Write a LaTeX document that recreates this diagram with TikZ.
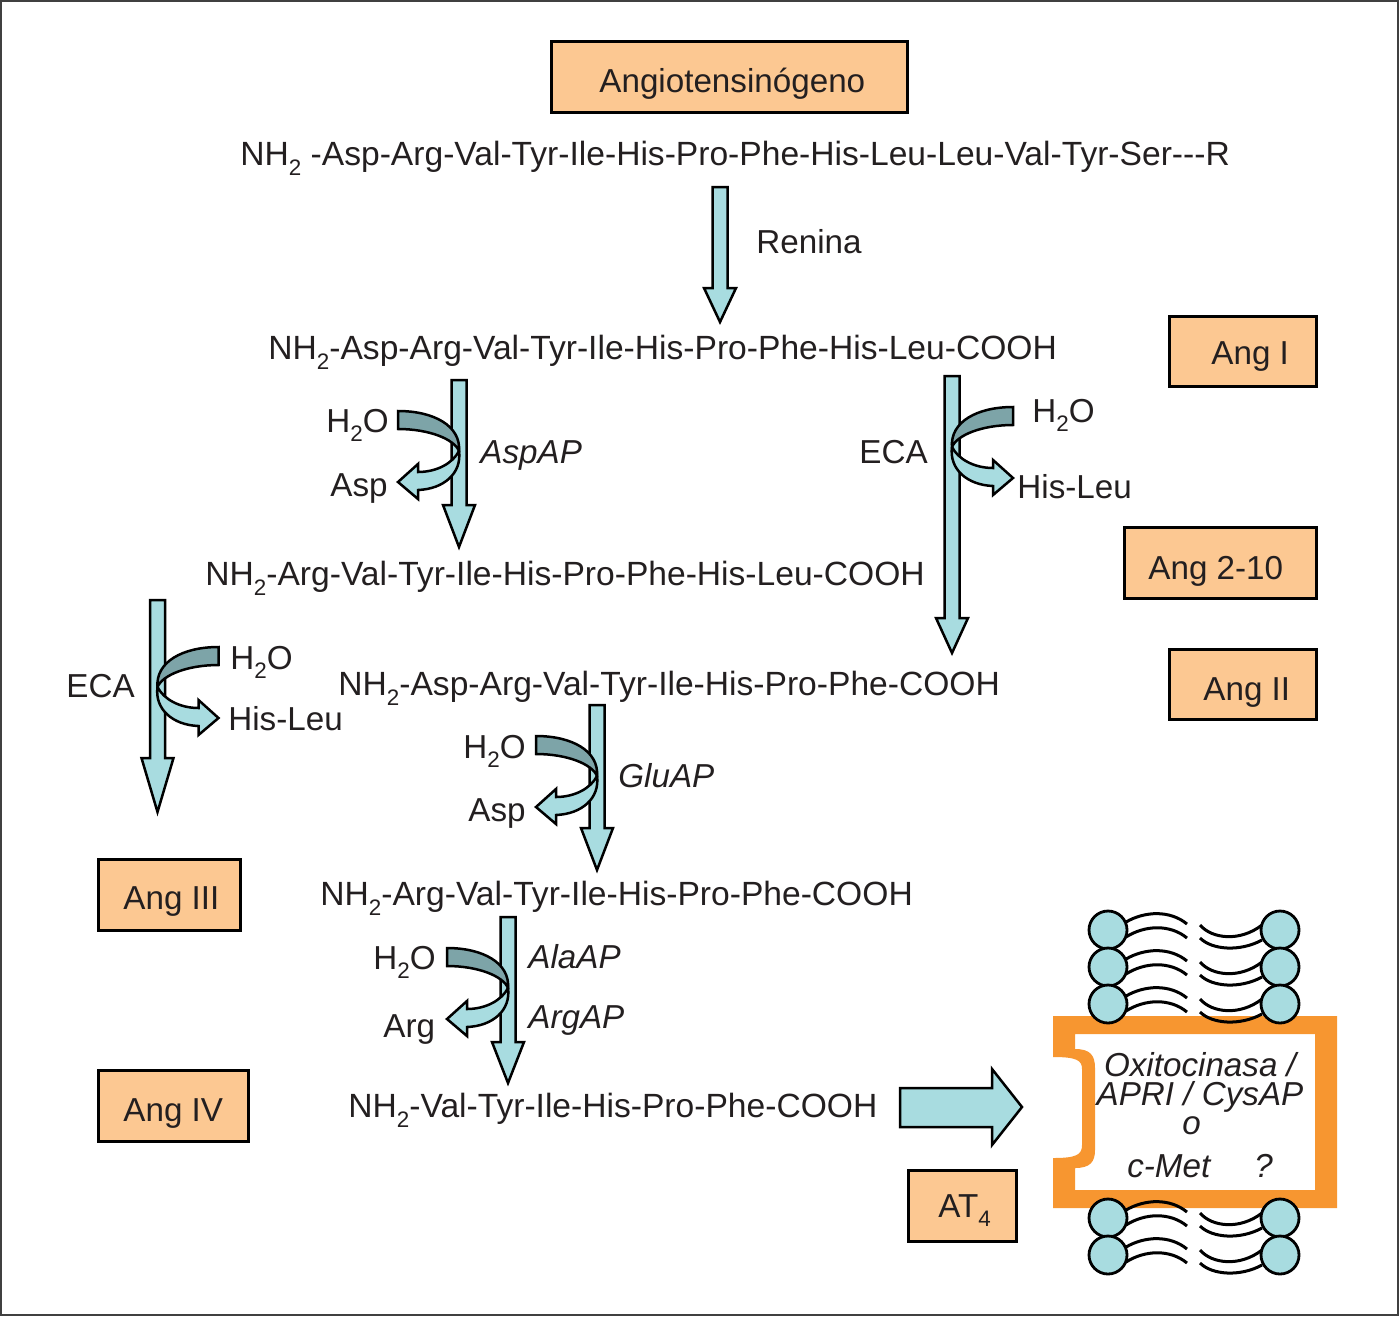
\documentclass[tikz,border=0pt]{standalone}
\usepackage{fontspec}
\setmainfont{Liberation Sans}
\newcommand\sbs[1]{\raisebox{-0.3em}{\fontsize{11.2pt}{12pt}\selectfont #1}}
\definecolor{peach}{RGB}{252,200,146}
\definecolor{ablue}{RGB}{168,220,224}
\definecolor{cdark}{RGB}{125,164,168}
\definecolor{orng}{RGB}{247,150,48}
\definecolor{ink}{RGB}{35,31,32}
\newcommand\varr[4]{%
  \draw[blk] ({#1-7.5},#2) -- ({#1+7.5},#2) -- ({#1+7.5},#3) -- ({#1+16},#3) -- (#1,#4) -- ({#1-16},#3) -- ({#1-7.5},#3) -- cycle;}
\newcommand\curl[3]{%
  \draw[blk] (#1,{#2+40}) .. controls ({#1+#3*6},{#2+52}) and ({#1+#3*22},{#2+61}) .. ({#1+#3*41},{#2+61})
     -- ({#1+#3*41},{#2+53}) -- ({#1+#3*61},{#2+71}) -- ({#1+#3*41},{#2+88}) -- ({#1+#3*41},{#2+79})
     .. controls ({#1+#3*15},{#2+78}) and ({#1-#3*3},{#2+62}) .. (#1,{#2+40}) -- cycle;
  \draw[blk,fill=cdark] ({#1+#3*61},#2) .. controls ({#1+#3*25},#2) and ({#1-#3*2},{#2+15}) .. (#1,{#2+40})
     .. controls ({#1+#3*5},{#2+28}) and ({#1+#3*30},{#2+18}) .. ({#1+#3*61},{#2+18}) -- cycle;}
\newcommand\lipid[1]{%
  \draw[tail] (1126,{#1-8}) .. controls (1145,{#1-19}) and (1170,{#1-20}) .. (1187,{#1-6});
  \draw[tail] (1126,{#1+7}) .. controls (1145,{#1-5}) and (1170,{#1-6}) .. (1187,{#1+8});
  \draw[tail] (1200,{#1-5}) .. controls (1212,{#1+9}) and (1240,{#1+12}) .. (1262,{#1-5});
  \draw[tail] (1200,{#1+8}) .. controls (1212,{#1+20}) and (1240,{#1+22}) .. (1262,{#1+10});}
\begin{document}
\begin{tikzpicture}[x=0.5pt,y=-0.5pt,
  every node/.style={font=\fontsize{16.6pt}{20pt}\selectfont, inner sep=0pt, text=ink},
  txt/.style={anchor=base west},
  seq/.style={anchor=base west, font=\fontsize{16.8pt}{20pt}\selectfont},
  itx/.style={anchor=base west, font=\fontsize{16.6pt}{20pt}\selectfont\itshape},
  box/.style={draw=black, line width=1.5pt, fill=peach, rectangle, inner sep=0pt},
  blk/.style={fill=ablue, draw=black, line width=1.25pt, line join=miter},
  tail/.style={draw=black, line width=1.5pt},
  head/.style={fill=ablue, draw=black, line width=1.4pt}]
\useasboundingbox (0,0) rectangle (1400,1317);
\draw[black!75, line width=1pt] (1,1) rectangle (1398,1315);

% boxes
\node[box, minimum width=178pt, minimum height=35.5pt] (bAgt) at (729.5,77) {};
\node[box, minimum width=73.5pt, minimum height=35pt] (bI) at (1243,351.5) {};
\node[box, minimum width=96pt, minimum height=35.5pt] (b210) at (1220.5,563) {};
\node[box, minimum width=73.5pt, minimum height=35pt] (bII) at (1243,684.5) {};
\node[box, minimum width=71pt, minimum height=35.5pt] (bIII) at (169.5,895) {};
\node[box, minimum width=75pt, minimum height=35.5pt] (bIV) at (173.5,1106) {};
\node[box, minimum width=54pt, minimum height=35.5pt] (bAT) at (962.5,1206) {};
\node[txt] (tAgt) at (599,92) {Angiotensinógeno};
\node[txt] (tI) at (1211,364) {Ang I};
\node[txt] (t210) at (1148,579) {Ang 2-10};
\node[txt] (tII) at (1203,700) {Ang II};
\node[txt] (tIII) at (123,909) {Ang III};
\node[txt] (tIV) at (123,1121) {Ang IV};
\node[txt] (tAT) at (938,1217) {AT\sbs{4}};

% peptide chains
\node[seq] (p1) at (240,165) {NH\sbs{2} -Asp-Arg-Val-Tyr-Ile-His-Pro-Phe-His-Leu-Leu-Val-Tyr-Ser-{}-{}-R};
\node[seq] (p2) at (268,359) {NH\sbs{2}-Asp-Arg-Val-Tyr-Ile-His-Pro-Phe-His-Leu-COOH};
\node[seq] (p3) at (205,585) {NH\sbs{2}-Arg-Val-Tyr-Ile-His-Pro-Phe-His-Leu-COOH};
\node[seq] (p4) at (338,695) {NH\sbs{2}-Asp-Arg-Val-Tyr-Ile-His-Pro-Phe-COOH};
\node[seq] (p5) at (320,905) {NH\sbs{2}-Arg-Val-Tyr-Ile-His-Pro-Phe-COOH};
\node[seq] (p6) at (348,1117) {NH\sbs{2}-Val-Tyr-Ile-His-Pro-Phe-COOH};

% vertical arrows
\varr{720}{187}{288}{322}
\varr{459}{380}{505}{547}
\varr{952}{376}{618}{653}
\varr{157.5}{600}{758}{812}
\varr{597}{705}{828}{870}
\varr{508}{917}{1042}{1083}

% curled arrows
\curl{459}{411}{-1}
\curl{952}{407}{1}
\curl{157.5}{647}{1}
\curl{597}{736}{-1}
\curl{508}{948}{-1}

% labels
\node[txt] (lRen) at (756,253) {Renina};
\node[txt] (w1) at (326,432) {H\sbs{2}O};
\node[txt] (a1) at (330,496) {Asp};
\node[itx] (e1) at (480,463) {AspAP};
\node[txt] (e2) at (859,463) {ECA};
\node[txt] (w2) at (1032,422) {H\sbs{2}O};
\node[txt] (h2) at (1017,498) {His-Leu};
\node[txt] (e3) at (66,697) {ECA};
\node[txt] (w3) at (230,669) {H\sbs{2}O};
\node[txt] (h3) at (228,730) {His-Leu};
\node[txt] (w4) at (463,758) {H\sbs{2}O};
\node[txt] (a4) at (468,821) {Asp};
\node[itx] (e4) at (618,787) {GluAP};
\node[txt] (w5) at (373,969) {H\sbs{2}O};
\node[txt] (a5) at (383,1037) {Arg};
\node[itx] (e5) at (528,968) {AlaAP};
\node[itx] (e6) at (528,1028) {ArgAP};

% big arrow
\draw[blk] (900,1088) -- (992,1088) -- (992,1069) -- (1022,1107) -- (992,1145) -- (992,1127) -- (900,1127) -- cycle;

% receptor frame
\fill[orng, even odd rule]
  (1053,1016) -- (1337,1016) -- (1337,1208) -- (1053,1208) -- (1053,1158)
    .. controls (1076,1158) and (1082,1155) .. (1082,1145) -- (1082,1069)
    .. controls (1082,1060) and (1076,1057) .. (1053,1057) -- cycle
  (1075,1034) -- (1315,1034) -- (1315,1190) -- (1075,1190) -- (1075,1168)
    .. controls (1090,1168) and (1095,1162) .. (1095,1150) -- (1095,1068)
    .. controls (1095,1055) and (1090,1049) .. (1075,1049) -- cycle;
\node[align=center, anchor=center, font=\fontsize{16.6pt}{14.5pt}\selectfont\itshape] (rtxt) at (1200,1115)
  {Oxitocinasa /\\APRI / CysAP\\o\kern8.5pt\\[7pt]c-Met\kern22pt?};

% lipids
\foreach \y in {930,967,1004,1218,1255}{\lipid{\y}}
\foreach \y in {930,967,1004,1218,1255}{
  \draw[head] (1108,\y) circle[radius=9.5pt];
  \draw[head] (1280,\y) circle[radius=9.5pt];
}
\end{tikzpicture}
\end{document}
